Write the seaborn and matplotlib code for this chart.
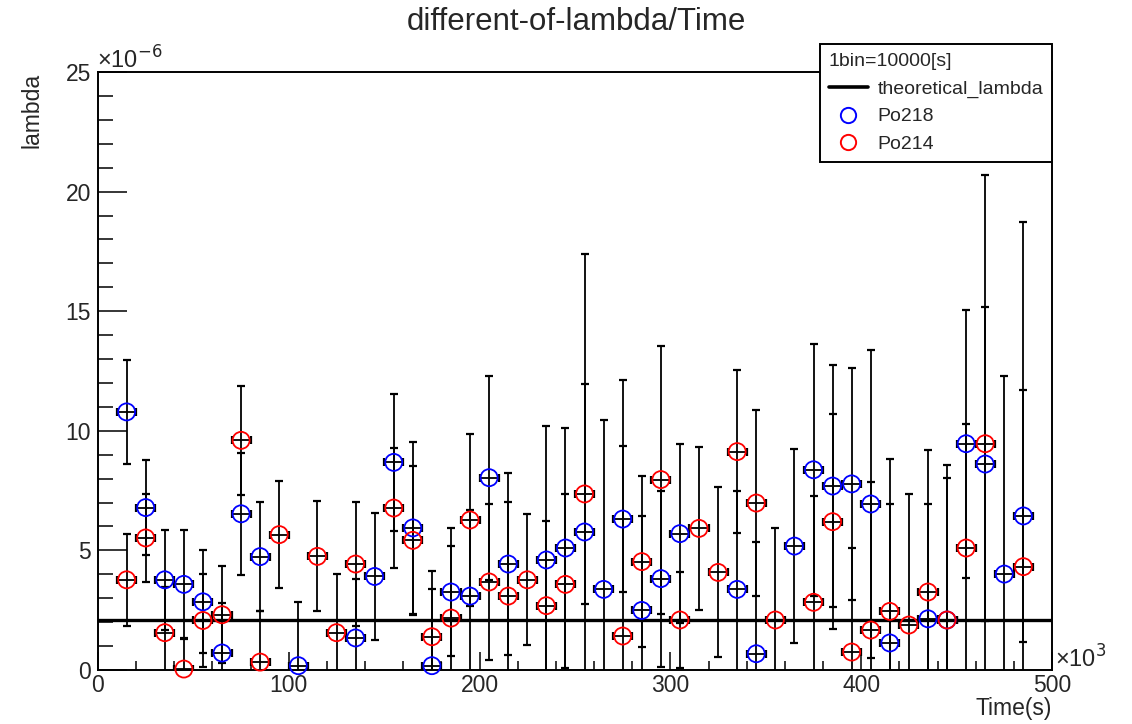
import numpy as np
import pandas as pd
import seaborn as sns
import matplotlib.pyplot as plt
from matplotlib.lines import Line2D
from matplotlib.ticker import MultipleLocator

# bin centres in units of 10^3 s (1 bin = 10000 s)
time_k = [15, 25, 35, 45, 55, 65, 75, 85, 95, 105, 115, 125, 135, 145, 155, 165,
          175, 185, 195, 205, 215, 225, 235, 245, 255, 265, 275, 285, 295, 305, 315, 325,
          335, 345, 355, 365, 375, 385, 395, 405, 415, 425, 435, 445, 455, 465, 475, 485]

# lambda values in units of 10^-6 (nan = empty bin)
po218 = [10.79, 6.79, 3.77, 3.58, 2.85, 0.71, 6.53, 4.74, np.nan, 0.18, np.nan, np.nan,
         1.34, 3.91, 8.68, 5.94, 0.18, 3.26, 3.09, 8.04, 4.43, np.nan, 4.60, 5.10,
         5.77, 3.37, 6.31, 2.49, 3.82, 5.70, np.nan, np.nan, 3.37, 0.68, np.nan, 5.18,
         8.37, 7.69, 7.78, 6.94, 1.13, np.nan, 2.14, 2.09, 9.46, 8.61, 4.01, 6.44]
po218_err = [2.18, 2.0, 2.08, 2.27, 2.15, 2.09, 2.55, 2.28, np.nan, 2.67, np.nan, np.nan,
             2.45, 2.66, 2.87, 3.6, 3.22, 2.66, 3.61, 4.27, 3.82, np.nan, 5.59, 5.0,
             11.64, 7.08, 3.05, 3.95, 3.68, 3.75, np.nan, np.nan, 4.13, 4.67, np.nan, 4.07,
             5.26, 5.05, 4.86, 6.45, 5.8, np.nan, 4.8, 5.95, 5.61, 6.55, 8.3, 5.28]

po214 = [3.77, 5.52, 1.56, 0.04, 2.07, 2.31, 9.60, 0.33, 5.66, np.nan, 4.75, 1.56,
         4.43, np.nan, 6.77, 5.42, 1.39, 2.17, 6.27, 3.68, 3.09, 3.77, 2.69, 3.58,
         7.36, np.nan, 1.42, 4.53, 7.96, 2.09, 5.92, 4.08, 9.13, 6.98, 2.09, np.nan,
         2.83, 6.20, 0.75, 1.67, 2.45, 1.88, 3.26, 2.09, 5.10, 9.46, np.nan, 4.32]
po214_err = [1.92, 1.84, 1.9, 1.3, 1.95, 2.02, 2.29, 2.12, 2.23, np.nan, 2.3, 2.45,
             2.59, np.nan, 2.51, 3.1, 2.76, 3.0, 3.61, 3.28, 3.93, 2.74, 3.55, 3.78,
             4.61, np.nan, 10.72, 3.58, 5.6, 2.0, 3.4, 3.55, 3.41, 3.89, 3.85, np.nan,
             4.43, 4.5, 4.35, 6.2, 6.37, 5.48, 5.95, 6.5, 5.18, 11.25, np.nan, 14.43]

theoretical_lambda = 2.098
bin_half_width = 5

df218 = pd.DataFrame({"time": time_k, "lam": po218, "err": po218_err}).dropna()
df214 = pd.DataFrame({"time": time_k, "lam": po214, "err": po214_err}).dropna()

sns.set_style("white")
plt.rcParams["font.family"] = ["Liberation Sans", "DejaVu Sans"]

W, H = 1132, 724
fig = plt.figure(figsize=(W / 100, H / 100), dpi=100)
ax = fig.add_axes([98 / W, 1 - 670 / H, 954 / W, 598 / H])

ax.axhline(theoretical_lambda, color="black", lw=2.4, zorder=1)

for df, col in [(df218, "blue"), (df214, "red")]:
    ax.errorbar(df["time"], df["lam"], xerr=bin_half_width, yerr=df["err"], fmt="none",
                ecolor="black", elinewidth=1.3, capsize=2.8, capthick=1.6, zorder=2)
    sns.scatterplot(data=df, x="time", y="lam", marker="o", s=150, facecolor="none",
                    edgecolor=col, linewidth=1.3, ax=ax, zorder=3, clip_on=False)

ax.set_xlim(0, 500)
ax.set_ylim(0, 25)
ax.set_xlabel("")
ax.set_ylabel("")

ax.xaxis.set_major_locator(MultipleLocator(100))
ax.xaxis.set_minor_locator(MultipleLocator(20))
ax.yaxis.set_major_locator(MultipleLocator(5))
ax.yaxis.set_minor_locator(MultipleLocator(1))
ax.tick_params(axis="y", which="major", direction="in", length=21, width=1.3,
               labelsize=16.5, pad=5, right=False, left=True)
ax.tick_params(axis="y", which="minor", direction="in", length=10.5, width=1.3,
               right=False, left=True)
ax.tick_params(axis="x", which="major", direction="in", length=13, width=1.3,
               labelsize=16.5, pad=3, top=False, bottom=True)
ax.tick_params(axis="x", which="minor", direction="in", length=6.5, width=1.3,
               top=False, bottom=True)
for sp in ax.spines.values():
    sp.set_linewidth(1.4)
    sp.set_color("black")

fig.text(576 / W, 1 - 22 / H, "different-of-lambda/Time", ha="center", va="center",
         fontsize=22.5)
fig.text(32 / W, 1 - 73 / H, "lambda", rotation=90, ha="center", va="top", fontsize=16.5)
fig.text(1052 / W, 1 - 708 / H, "Time(s)", ha="right", va="center", fontsize=16.5)
fig.text(97 / W, 1 - 69 / H, "×10$^{-6}$", ha="left", va="baseline", fontsize=17)
fig.text(1055 / W, 1 - 668 / H, "×10$^{3}$", ha="left", va="baseline", fontsize=17)

handles = [
    Line2D([], [], color="black", lw=2.6),
    Line2D([], [], ls="none", marker="o", markersize=11, mfc="none", mec="blue", mew=1.4),
    Line2D([], [], ls="none", marker="o", markersize=11, mfc="none", mec="red", mew=1.4),
]
leg = ax.legend(handles, ["theoretical_lambda", "Po218", "Po214"], title="1bin=10000[s]",
                loc="upper right", bbox_to_anchor=(1052 / W, 1 - 44 / H),
                bbox_transform=fig.transFigure, borderaxespad=0, fontsize=14,
                title_fontsize=14, alignment="left", fancybox=False, framealpha=1,
                edgecolor="black", handlelength=2.0, handletextpad=0.5,
                labelspacing=0.52, borderpad=0.45)
leg.get_frame().set_linewidth(1.4)
leg.set_zorder(5)

fig.savefig("out.png", dpi=100)
